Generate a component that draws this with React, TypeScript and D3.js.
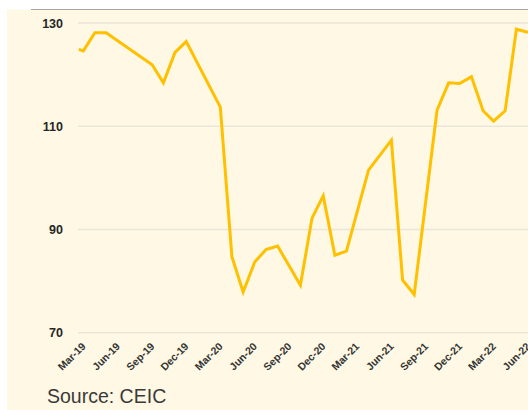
import React from "react";
import * as d3 from "d3";

const dates: string[] = [
  "2019-02-17", "2019-03-01", "2019-04-01", "2019-05-01",
  "2019-09-01", "2019-10-01", "2019-11-01", "2019-12-01",
  "2020-03-01", "2020-04-01", "2020-05-01", "2020-06-01", "2020-07-01", "2020-08-01",
  "2020-10-01", "2020-11-01", "2020-12-01", "2021-01-01", "2021-02-01",
  "2021-04-01", "2021-06-01", "2021-07-01", "2021-08-01",
  "2021-10-01", "2021-11-01", "2021-12-01", "2022-01-01", "2022-02-01",
  "2022-03-01", "2022-04-01", "2022-05-01", "2022-06-01",
];
const values: number[] = [
  124.9, 124.6, 128.1, 128.1,
  121.9, 118.4, 124.3, 126.4,
  113.7, 84.7, 77.9, 83.7, 86.1, 86.8,
  79.2, 92.2, 96.5, 85.0, 85.8,
  101.5, 107.3, 80.2, 77.4,
  113.1, 118.4, 118.3, 119.6, 113.0,
  111.0, 113.0, 128.8, 128.2,
];
const xTickLabels: string[] = [
  "Mar-19", "Jun-19", "Sep-19", "Dec-19", "Mar-20", "Jun-20", "Sep-20",
  "Dec-20", "Mar-21", "Jun-21", "Sep-21", "Dec-21", "Mar-22", "Jun-22",
];
const yTicks: number[] = [70, 90, 110, 130];

const parseDate = d3.timeParse("%Y-%m-%d");
const parseTick = d3.timeParse("%b-%y");

export default function App() {
  const W = 528;
  const H = 410;
  const x = d3
    .scaleTime()
    .domain([parseTick("Mar-19") as Date, parseTick("Jun-22") as Date])
    .range([83.3, 528]);
  const y = d3.scaleLinear().domain([70, 130]).range([332.7, 23]);
  const pts = dates.map((d, i) => ({ d: parseDate(d) as Date, v: values[i] }));
  const line = d3
    .line<{ d: Date; v: number }>()
    .x((p) => x(p.d))
    .y((p) => y(p.v));
  const font = "'Liberation Sans', Arial, sans-serif";
  return (
    <svg
      width={W}
      height={H}
      style={{ position: "absolute", left: 0, top: 0, display: "block" }}
    >
      <rect x={0} y={0} width={W} height={H} fill="#ffffff" />
      <rect x={7} y={9.5} width={W - 7} height={H - 9.5} fill="#FEF8E4" />
      <line x1={31} x2={W} y1={9.5} y2={9.5} stroke="#A9A59D" strokeWidth={1.2} />
      {yTicks.map((t) => (
        <g key={t}>
          <line x1={78} x2={W} y1={y(t)} y2={y(t)} stroke="#EAE6DA" strokeWidth={1.5} />
          <text
            x={63}
            y={y(t) + 4.5}
            textAnchor="end"
            fontFamily={font}
            fontWeight="bold"
            fontSize={12.5}
            fill="#262626"
          >
            {t}
          </text>
        </g>
      ))}
      <path
        d={line(pts) || ""}
        fill="none"
        stroke="#FFC000"
        strokeWidth={3}
        strokeLinejoin="miter"
      />
      {xTickLabels.map((l) => {
        const xx = x(parseTick(l) as Date);
        return (
          <text
            key={l}
            transform={`translate(${xx + 3},${347}) rotate(-45)`}
            textAnchor="end"
            fontFamily={font}
            fontWeight="bold"
            fontSize={10.5}
            fill="#333333"
          >
            {l}
          </text>
        );
      })}
      <text x={47} y={403} fontFamily={font} fontSize={19.5} fill="#3A3A3A">
        Source: CEIC
      </text>
    </svg>
  );
}
